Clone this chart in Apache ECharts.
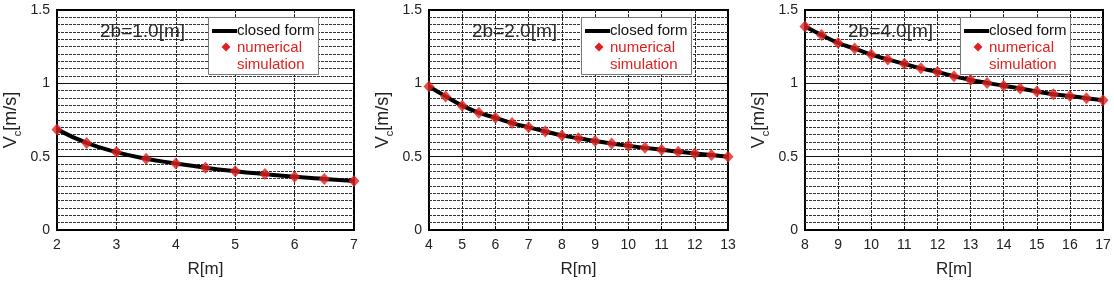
<!DOCTYPE html>
<html>
<head>
<meta charset="utf-8">
<script src="https://cdn.jsdelivr.net/npm/echarts@6/dist/echarts.min.js"></script>
<style>
  html, body { margin: 0; padding: 0; background: #fff; }
  #chart { width: 1114px; height: 283px; }
</style>
</head>
<body>
<div id="chart"></div>
<script>
// R [m] and Vc [m/s] for each panel
var r1 = [2, 2.5, 3, 3.5, 4, 4.5, 5, 5.5, 6, 6.5, 7];
var v1 = [0.686, 0.594, 0.531, 0.486, 0.454, 0.425, 0.401, 0.381, 0.363, 0.348, 0.334];

var r2 = [4, 4.5, 5, 5.5, 6, 6.5, 7, 7.5, 8, 8.5, 9, 9.5, 10, 10.5, 11, 11.5, 12, 12.5, 13];
var v2 = [0.978, 0.911, 0.848, 0.800, 0.765, 0.729, 0.700, 0.672, 0.645, 0.625, 0.607, 0.589, 0.574, 0.560, 0.547, 0.534, 0.522, 0.511, 0.500];

var r3 = [8, 8.5, 9, 9.5, 10, 10.5, 11, 11.5, 12, 12.5, 13, 13.5, 14, 14.5, 15, 15.5, 16, 16.5, 17];
var v3 = [1.387, 1.329, 1.275, 1.237, 1.196, 1.163, 1.133, 1.102, 1.077, 1.048, 1.023, 1.003, 0.983, 0.965, 0.944, 0.926, 0.913, 0.899, 0.884];

var panelTitles = ["2b=1.0[m]", "2b=2.0[m]", "2b=4.0[m]"];
var xRanges = [[2, 7], [4, 13], [8, 17]];

var FONT = "Liberation Sans, Arial, sans-serif";
var RED = "#e0201e";

// plot areas (px)
var grids = [
  { left: 57, top: 10, width: 297, height: 223 },
  { left: 429, top: 10, width: 299, height: 223 },
  { left: 805, top: 10, width: 298, height: 223 },
];
var legendLeft = [208, 581, 960];

function toPairs(xs, ys) {
  return xs.map(function (x, i) { return [x, ys[i]]; });
}

var chart = echarts.init(document.getElementById("chart"));

var xAxes = [], yAxes = [], series = [], graphics = [];
var allR = [r1, r2, r3], allV = [v1, v2, v3];

grids.forEach(function (g, i) {
  xAxes.push({
    gridIndex: i,
    type: "value",
    min: xRanges[i][0],
    max: xRanges[i][1],
    interval: 1,
    name: "R[m]",
    nameLocation: "middle",
    nameGap: 31,
    nameTextStyle: { fontFamily: FONT, fontSize: 17, color: "#222" },
    axisLine: { show: false },
    axisTick: { show: true, inside: true, length: 4, lineStyle: { color: "#000" } },
    axisLabel: { fontFamily: FONT, fontSize: 14, color: "#222", margin: 8 },
    splitLine: {
      show: true,
      showMinLine: false,
      showMaxLine: false,
      lineStyle: { color: "#222", width: 1, type: [3, 1] },
    },
  });
  yAxes.push({
    gridIndex: i,
    type: "value",
    min: 0,
    max: 1.5,
    interval: 0.5,
    name: "{a|V}{b|c}{a|[m/s]}",
    nameLocation: "middle",
    nameRotate: 90,
    nameGap: 34,
    nameTextStyle: {
      rich: {
        a: { fontFamily: FONT, fontSize: 18, color: "#222" },
        b: { fontFamily: FONT, fontSize: 11, color: "#222", padding: [12, 0, 0, 0] },
      },
    },
    axisLine: { show: false },
    axisTick: { show: false },
    axisLabel: { fontFamily: FONT, fontSize: 14, color: "#222", margin: 7 },
    minorTick: { show: false, splitNumber: 10 },
    splitLine: {
      show: true,
      showMinLine: false,
      showMaxLine: false,
      lineStyle: { color: "#111", width: 1, type: "solid" },
    },
    minorSplitLine: {
      show: true,
      lineStyle: { color: "#333", width: 1, type: [3, 1] },
    },
  });

  var data = toPairs(allR[i], allV[i]);
  series.push({
    name: "closed form",
    type: "line",
    xAxisIndex: i,
    yAxisIndex: i,
    smooth: true,
    showSymbol: false,
    lineStyle: { color: "#000", width: 4 },
    data: data,
    z: 3,
  });
  series.push({
    name: "numerical simulation",
    type: "scatter",
    xAxisIndex: i,
    yAxisIndex: i,
    symbol: "diamond",
    symbolSize: [11, 12],
    itemStyle: { color: RED },
    data: data,
    z: 4,
  });

  // panel label + legend box
  var L = legendLeft[i];
  graphics.push(
    {
      type: "text", z: 100,
      x: g.left + 43, y: 32,
      style: { text: panelTitles[i], font: "19px " + FONT, fill: "#2a2a2a", verticalAlign: "middle" },
    },
    {
      type: "rect", z: 100,
      shape: { x: L + 0.5, y: 17.5, width: 110, height: 57 },
      style: { fill: "#fff", stroke: "#777", lineWidth: 1 },
    },
    {
      type: "line", z: 101,
      shape: { x1: L + 4, y1: 31, x2: L + 29, y2: 31 },
      style: { stroke: "#000", lineWidth: 4 },
    },
    {
      type: "text", z: 101,
      x: L + 29, y: 31,
      style: { text: "closed form", font: "15px " + FONT, fill: "#111", verticalAlign: "middle" },
    },
    {
      type: "polygon", z: 101,
      shape: { points: [[L + 18, 42.5], [L + 22.5, 47], [L + 18, 51.5], [L + 13.5, 47]] },
      style: { fill: RED },
    },
    {
      type: "text", z: 101,
      x: L + 29, y: 39,
      style: { text: "numerical\nsimulation", font: "15px " + FONT, fill: RED, lineHeight: 17 },
    }
  );
});

var option = {
  animation: false,
  backgroundColor: "#fff",
  grid: grids.map(function (g) {
    return {
      left: g.left, top: g.top, width: g.width, height: g.height,
      show: true, borderColor: "#000", borderWidth: 2, backgroundColor: "transparent",
    };
  }),
  xAxis: xAxes,
  yAxis: yAxes,
  series: series,
  graphic: graphics,
};

chart.setOption(option);
</script>
</body>
</html>
